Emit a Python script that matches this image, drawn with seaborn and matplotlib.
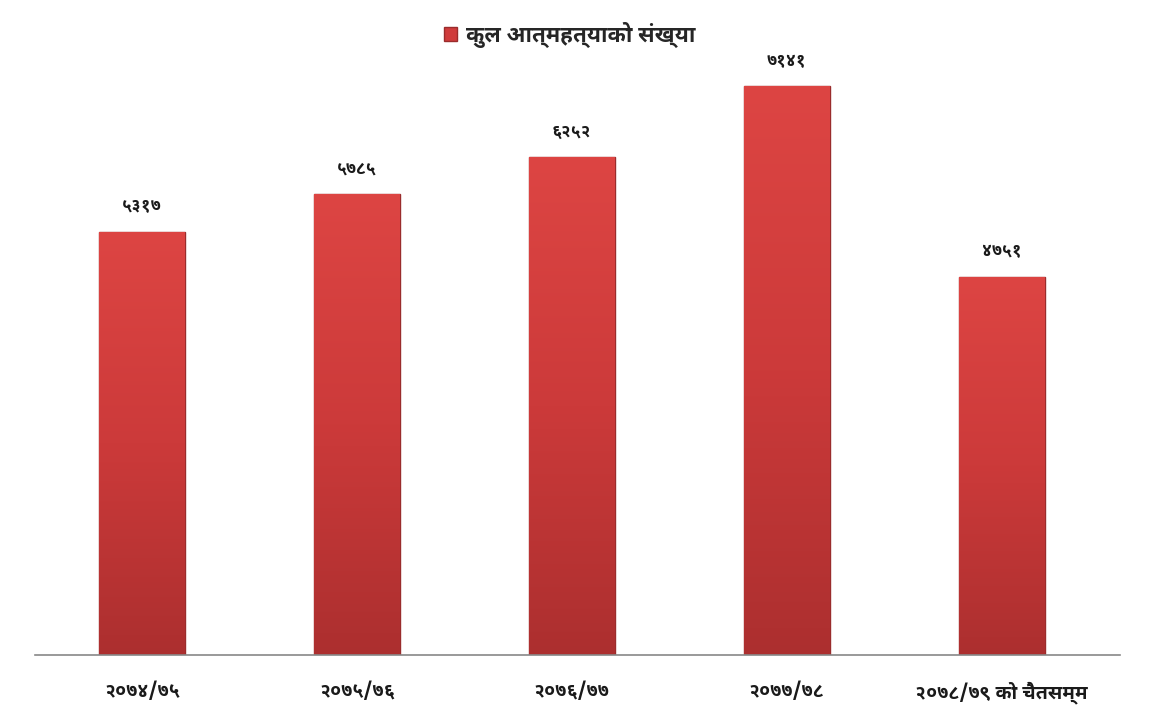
import numpy as np
import pandas as pd
import matplotlib
matplotlib.use('Agg')
import matplotlib.pyplot as plt
import seaborn as sns
from matplotlib.colors import LinearSegmentedColormap
from matplotlib.patches import Patch

# dữ liệu
categories = ['२०७४/७५', '२०७५/७६', '२०७६/७७', '२०७७/७८', '२०७८/७९ को चैतसम्म']
values = [5317, 5785, 6252, 7141, 4751]
series_name = 'कुल आत्महत्याको संख्या'

deva_digits = str.maketrans('0123456789', '०१२३४५६७८९')

sns.set_style('white')
plt.rcParams['font.family'] = ['Noto Sans Devanagari UI', 'Mukta', 'FreeSans', 'DejaVu Sans']

df = pd.DataFrame({'cat': categories, 'val': values})

fig = plt.figure(figsize=(11.52, 7.2), dpi=100)
ax = fig.add_axes([0.030, 0.090, 0.942, 0.885])
sns.barplot(data=df, x='cat', y='val', color='#D64141', width=0.4, ax=ax,
            edgecolor='#9A2C2C', linewidth=1.0)

# gradient cho các cột
cmap = LinearSegmentedColormap.from_list('bar', ['#AC2F2F', '#CC3A3A', '#DD4543'])
grad = np.linspace(0, 1, 256).reshape(-1, 1)
for p in ax.patches:
    x0, y0 = p.get_x(), p.get_y()
    w, h = p.get_width(), p.get_height()
    im = ax.imshow(grad, cmap=cmap, aspect='auto', origin='lower',
                   extent=[x0, x0 + w, y0, y0 + h], zorder=p.get_zorder())
    im.set_clip_path(p)

ax.set_xlim(-0.5, 4.55)
ax.set_ylim(0, 8000)

for i, v in enumerate(values):
    ax.text(i, v + 210, str(v).translate(deva_digits), ha='center', va='bottom',
            fontsize=12.5, fontweight='bold', color='#1a1a1a')

ax.set_yticks([])
ax.set_xlabel('')
ax.set_ylabel('')
for s in ['top', 'right', 'left']:
    ax.spines[s].set_visible(False)
ax.spines['bottom'].set_color('#888888')
ax.spines['bottom'].set_linewidth(1.2)
ax.tick_params(axis='x', length=0, pad=19)
plt.setp(ax.get_xticklabels(), fontsize=14, fontweight='bold', color='#1a1a1a')

handle = Patch(facecolor='#D03C3C', edgecolor='#9A2C2C')
ax.legend([handle], [series_name], loc='upper center', bbox_to_anchor=(0.493, 1.025),
          frameon=False, handlelength=0.6, handleheight=0.6,
          handletextpad=0.4, prop={'weight': 'bold', 'size': 16})

fig.savefig('out.png', dpi=100)
